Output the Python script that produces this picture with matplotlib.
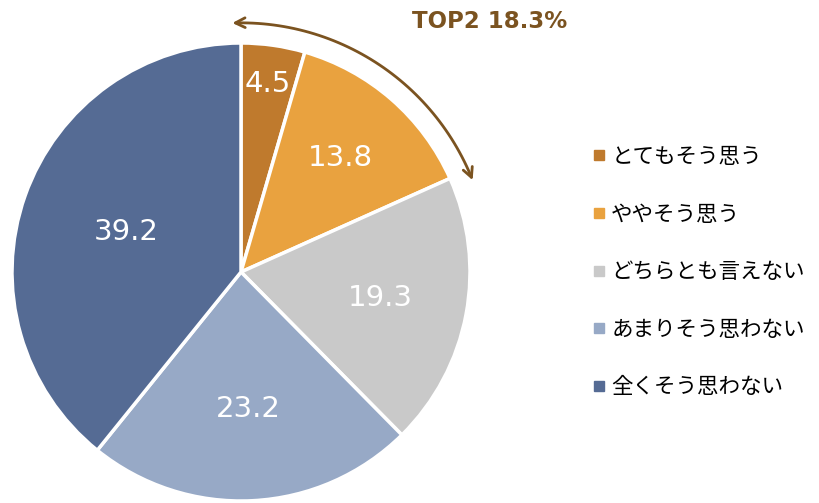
import numpy as np
import matplotlib
matplotlib.use('Agg')
import matplotlib.pyplot as plt
from matplotlib.patches import FancyArrowPatch
from matplotlib.path import Path
from matplotlib.lines import Line2D

plt.rcParams['font.family'] = ['Noto Sans CJK JP', 'DejaVu Sans']

labels = ['とてもそう思う', 'ややそう思う', 'どちらとも言えない', 'あまりそう思わない', '全くそう思わない']
values = [4.5, 13.8, 19.3, 23.2, 39.2]
colors = ['#BF7A2D', '#E9A23F', '#C9C9C9', '#97A9C6', '#556B94']
top2_label = 'TOP2 18.3%'

W, H = 819, 503
fig = plt.figure(figsize=(W / 100, H / 100), dpi=100)
cx, cy, r = 241, 272, 229
ax = fig.add_axes([(cx - r) / W, (H - cy - r) / H, 2 * r / W, 2 * r / H])

wedges, _ = ax.pie(values, colors=colors, startangle=90, counterclock=False,
                   wedgeprops=dict(edgecolor='white', linewidth=2.5))
ax.set_xlim(-1, 1)
ax.set_ylim(-1, 1)
ax.set_aspect('equal')
ax.axis('off')

# value labels
label_r = [0.83, 0.66, 0.62, 0.6, 0.53]
cum = np.cumsum([0] + values)
for i, v in enumerate(values):
    mid = (cum[i] + v / 2) / 100 * 360
    a = np.deg2rad(90 - mid)
    ax.text(label_r[i] * np.cos(a), label_r[i] * np.sin(a), f'{v:.1f}',
            ha='center', va='center', color='white', fontsize=21,
            family='DejaVu Sans')

# TOP2 arc arrow
top2 = values[0] + values[1]
angs = np.deg2rad(90 - np.linspace(-2, top2 * 3.6 + 2.5, 60))
ra = 1.088
pts = np.column_stack([ra * np.cos(angs), ra * np.sin(angs)])
arrow = FancyArrowPatch(path=Path(pts), arrowstyle='<->,head_length=7,head_width=3.5',
                        color='#7B5320', linewidth=2, clip_on=False)
ax.add_patch(arrow)
fig.text(490 / W, 1 - 21 / H, top2_label, ha='center', va='center',
         color='#7B5320', fontsize=16.5, fontweight='bold', family='DejaVu Sans')

# legend
handles = [Line2D([], [], marker='s', linestyle='', markersize=7, color=c) for c in colors]
fig.legend(handles, labels, loc='upper left', bbox_to_anchor=(594 / W, 1 - 146 / H),
           frameon=False, fontsize=15.5, labelspacing=1.65, handlelength=0.5,
           handletextpad=0.3, borderpad=0, borderaxespad=0)

fig.savefig('out.png', dpi=100)
